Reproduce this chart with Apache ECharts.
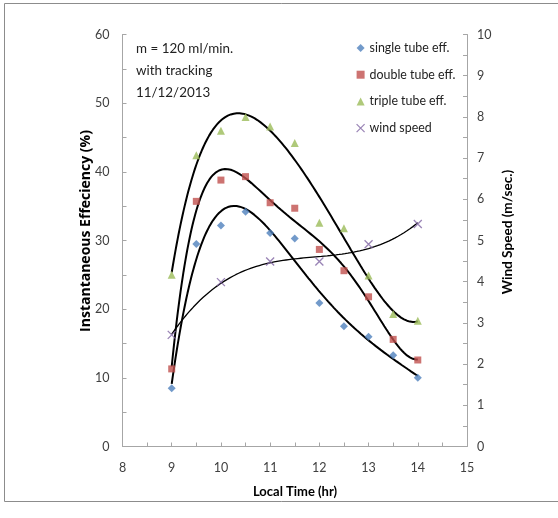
<!DOCTYPE html>
<html>
<head>
<meta charset="utf-8">
<script src="https://cdn.jsdelivr.net/npm/echarts@6/dist/echarts.min.js"></script>
<style>
  html, body { margin: 0; padding: 0; background: #fff; }
  #chart { width: 558px; height: 518px; }
</style>
</head>
<body>
<div id="chart"></div>
<script>
// Local time of each reading (hr)
const hours = [9, 9.5, 10, 10.5, 11, 11.5, 12, 12.5, 13, 13.5, 14];
// Instantaneous efficiency (%)
const singleEff = [8.5, 29.5, 32.2, 34.2, 31.1, 30.3, 20.9, 17.5, 16.0, 13.3, 10.0];
const doubleEff = [11.3, 35.7, 38.8, 39.3, 35.5, 34.7, 28.7, 25.6, 21.8, 15.6, 12.6];
const tripleEff = [25.0, 42.4, 46.0, 48.0, 46.6, 44.2, 32.6, 31.8, 24.9, 19.3, 18.3];
// Wind speed (m/sec.), read hourly
const windHours = [9, 10, 11, 12, 13, 14];
const windSpeed = [2.71, 3.99, 4.49, 4.49, 4.91, 5.40];

const seriesNames = ['single tube eff.', 'double tube eff.', 'triple tube eff.', 'wind speed'];
const annotation = ['m = 120 ml/min.', 'with tracking', '11/12/2013'];
const axisTitles = { x: 'Local Time (hr)', left: 'Instantaneous Effeciency (%)', right: 'Wind Speed (m/sec.)' };

// Least-squares polynomial trendline
function polyfit(xs, ys, deg) {
  const c = 11.5, s = 2.5, n = deg + 1;
  const A = Array.from({ length: n }, () => new Array(n + 1).fill(0));
  xs.forEach((x, k) => {
    const u = (x - c) / s, p = [];
    for (let i = 0; i < n; i++) p.push(Math.pow(u, i));
    for (let i = 0; i < n; i++) {
      for (let j = 0; j < n; j++) A[i][j] += p[i] * p[j];
      A[i][n] += p[i] * ys[k];
    }
  });
  for (let i = 0; i < n; i++) {
    let m = i;
    for (let r = i + 1; r < n; r++) if (Math.abs(A[r][i]) > Math.abs(A[m][i])) m = r;
    [A[i], A[m]] = [A[m], A[i]];
    for (let r = 0; r < n; r++) {
      if (r === i) continue;
      const f = A[r][i] / A[i][i];
      for (let k = i; k <= n; k++) A[r][k] -= f * A[i][k];
    }
  }
  const coef = A.map((row, i) => row[n] / row[i]);
  return x => {
    const u = (x - c) / s;
    let y = 0;
    for (let i = n - 1; i >= 0; i--) y = y * u + coef[i];
    return y;
  };
}

function trend(xs, ys, deg) {
  const f = polyfit(xs, ys, deg), pts = [];
  const x0 = xs[0], x1 = xs[xs.length - 1], steps = 250;
  for (let i = 0; i <= steps; i++) {
    const x = x0 + (x1 - x0) * i / steps;
    pts.push([x, f(x)]);
  }
  return pts;
}

const pair = (xs, ys) => xs.map((x, i) => [x, ys[i]]);

const colors = ['#4F81BD', '#C0504D', '#9BBB59', '#8064A2'];
const axisGray = '#a6a6a6';
const labelGray = '#404040';
const face = 'Lato, "Liberation Sans", sans-serif';
const xMark = 'path://M0,0L10,10M10,0L0,10';

const trendStyle = (w) => ({
  type: 'line', showSymbol: false, symbol: 'none', smooth: false,
  lineStyle: { color: '#000', width: w }, silent: true, z: 3
});

const axisCommon = {
  axisLine: { show: true, lineStyle: { color: axisGray, width: 1 } },
  axisTick: { show: true, inside: true, length: 4, lineStyle: { color: axisGray } },
  minorTick: { show: true, splitNumber: 2, length: 4, lineStyle: { color: axisGray } },
  splitLine: { show: false },
  axisLabel: { color: labelGray, fontFamily: face, fontSize: 12.5 }
};

const titleText = (text, x, y, rot, size, family) => ({
  type: 'text', x, y, rotation: rot, silent: true,
  style: {
    text, fill: '#000', font: 'bold ' + size + 'px ' + family,
    align: 'center', verticalAlign: 'middle', textAlign: 'center', textVerticalAlign: 'middle'
  }
});

const chart = echarts.init(document.getElementById('chart'), null, { renderer: 'canvas' });

chart.setOption({
  animation: false,
  backgroundColor: '#fff',
  grid: { left: 122.5, right: 91, top: 34.5, bottom: 71.5 },
  xAxis: Object.assign({}, axisCommon, {
    type: 'value', min: 8, max: 15, interval: 1,
    axisLabel: Object.assign({}, axisCommon.axisLabel, { margin: 15 })
  }),
  yAxis: [
    Object.assign({}, axisCommon, {
      type: 'value', min: 0, max: 60, interval: 10, position: 'left',
      axisLabel: Object.assign({}, axisCommon.axisLabel, { margin: 13 })
    }),
    Object.assign({}, axisCommon, {
      type: 'value', min: 0, max: 10, interval: 1, position: 'right',
      axisLabel: Object.assign({}, axisCommon.axisLabel, { margin: 10 })
    })
  ],
  legend: {
    orient: 'vertical', left: 351, top: 36,
    itemWidth: 8, itemHeight: 8, itemGap: 12.7,
    textStyle: { color: '#222', fontFamily: face, fontSize: 12.4, lineHeight: 14 },
    data: [
      { name: seriesNames[0], icon: 'diamond' },
      { name: seriesNames[1], icon: 'rect' },
      { name: seriesNames[2], icon: 'triangle' },
      { name: seriesNames[3], icon: xMark, itemStyle: { color: 'transparent', borderColor: colors[3], borderWidth: 1.2 } }
    ]
  },
  graphic: annotation.map((t, i) => ({
    type: 'text', x: 136, y: 48.3 + i * 22.2, silent: true,
    style: { text: t, fill: '#222', font: '13.4px ' + face, verticalAlign: 'middle', textVerticalAlign: 'middle' }
  })).concat([
    titleText(axisTitles.x, 295, 492, 0, 13, face),
    titleText(axisTitles.left, 86, 231, Math.PI / 2, 14, '"Open Sans", sans-serif'),
    titleText(axisTitles.right, 508, 232, Math.PI / 2, 13.6, face),
    {
      type: 'rect', shape: { x: 4.5, y: 3.5, width: 600, height: 498 }, silent: true, z: -1,
      style: { fill: 'none', stroke: '#8c8c8c', lineWidth: 1 }
    }
  ]),
  series: [
    { name: seriesNames[0], type: 'scatter', data: pair(hours, singleEff), symbol: 'diamond', symbolSize: 8, itemStyle: { color: colors[0] }, z: 4 },
    { name: seriesNames[1], type: 'scatter', data: pair(hours, doubleEff), symbol: 'rect', symbolSize: 7, itemStyle: { color: colors[1] }, z: 4 },
    { name: seriesNames[2], type: 'scatter', data: pair(hours, tripleEff), symbol: 'triangle', symbolSize: 8, itemStyle: { color: colors[2] }, z: 4 },
    { name: seriesNames[3], type: 'scatter', yAxisIndex: 1, data: pair(windHours, windSpeed), symbol: xMark, symbolSize: 8,
      itemStyle: { color: 'transparent', borderColor: colors[3], borderWidth: 1.3 }, z: 4 },
    Object.assign(trendStyle(2), { data: trend(hours, singleEff, 5) }),
    Object.assign(trendStyle(2), { data: trend(hours, doubleEff, 5) }),
    Object.assign(trendStyle(2), { data: trend(hours, tripleEff, 5) }),
    Object.assign(trendStyle(1.3), { yAxisIndex: 1, data: trend(windHours, windSpeed, 3) })
  ]
});
</script>
</body>
</html>
